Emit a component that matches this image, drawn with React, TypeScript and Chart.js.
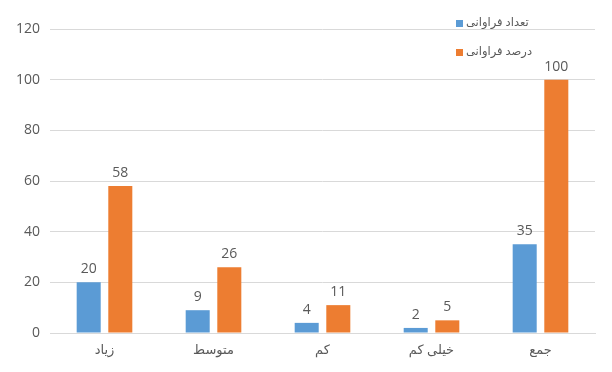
import React, { useEffect, useRef } from "react";
import { Chart, registerables } from "chart.js";

Chart.register(...registerables);

const categories = ["زیاد", "متوسط", "کم", "خیلی کم", "جمع"];
const countLabel = "تعداد فراوانی";
const percentLabel = "درصد فراوانی";
const countValues = [20, 9, 4, 2, 35];
const percentValues = [58, 26, 11, 5, 100];
const yMax = 120;
const yStep = 20;

const TEXT = "#595959";
const FONT = "'Open Sans', 'DejaVu Sans', sans-serif";

export default function App() {
  const ref = useRef<HTMLCanvasElement | null>(null);
  useEffect(() => {
    document.body.style.margin = "0";
    const canvas = ref.current!;
    const valueLabels = {
      id: "valueLabels",
      afterDatasetsDraw(chart: any) {
        const ctx = chart.ctx;
        ctx.save();
        ctx.fillStyle = TEXT;
        ctx.font = `14px ${FONT}`;
        ctx.textAlign = "center";
        ctx.textBaseline = "bottom";
        chart.data.datasets.forEach((ds: any, i: number) => {
          const meta = chart.getDatasetMeta(i);
          meta.data.forEach((bar: any, j: number) => {
            ctx.fillText(String(ds.data[j]), bar.x, bar.y - 6);
          });
        });
        ctx.restore();
      },
    };
    const legendPlugin = {
      id: "customLegend",
      afterDraw(chart: any) {
        const ctx = chart.ctx;
        ctx.save();
        ctx.font = `11.5px ${FONT}`;
        ctx.textBaseline = "middle";
        ctx.textAlign = "left";
        chart.data.datasets.forEach((ds: any, i: number) => {
          const y = 23 + i * 29;
          ctx.fillStyle = ds.backgroundColor;
          ctx.fillRect(456, y - 3, 7, 7);
          ctx.fillStyle = TEXT;
          ctx.fillText(ds.label, 466, y);
        });
        ctx.restore();
      },
    };
    const chart = new Chart(canvas, {
      type: "bar",
      data: {
        labels: categories,
        datasets: [
          {
            label: countLabel,
            data: countValues,
            backgroundColor: "#5B9BD5",
            categoryPercentage: 0.58,
            barPercentage: 0.76,
          },
          {
            label: percentLabel,
            data: percentValues,
            backgroundColor: "#ED7D31",
            categoryPercentage: 0.58,
            barPercentage: 0.76,
          },
        ],
      },
      options: {
        responsive: false,
        animation: false,
        layout: { padding: { top: 29, right: 17, bottom: 0, left: 0 } },
        plugins: {
          legend: { display: false },
          tooltip: { enabled: false },
        },
        scales: {
          x: {
            grid: { display: false, drawTicks: false },
            border: { display: true, color: "#d9d9d9", width: 1 },
            ticks: { color: TEXT, font: { size: 13, family: FONT }, padding: 9 },
            afterFit: (s: any) => {
              s.height = 39;
            },
          },
          y: {
            min: 0,
            max: yMax,
            ticks: {
              stepSize: yStep,
              color: TEXT,
              font: { size: 14, family: FONT },
              padding: 10,
            },
            grid: { color: "#d9d9d9", drawTicks: false },
            border: { display: false },
            afterFit: (s: any) => {
              s.width = 50;
            },
          },
        },
      },
      plugins: [valueLabels, legendPlugin],
    });
    return () => chart.destroy();
  }, []);
  return <canvas ref={ref} width={612} height={372} style={{ display: "block" }} />;
}
